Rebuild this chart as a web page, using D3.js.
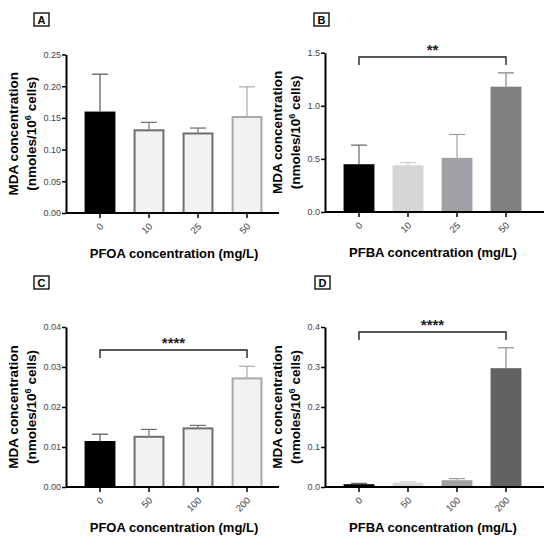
<!DOCTYPE html>
<html>
<head>
<meta charset="utf-8">
<script src="https://cdn.jsdelivr.net/npm/d3@7"></script>
<style>
  body { margin: 0; background: #fff; }
  text { font-family: "Liberation Sans", Arial, sans-serif; }
</style>
</head>
<body>
<script>
// values
const dosesPFOA1 = ["0", "10", "25", "50"];
const meanA = [0.160, 0.132, 0.127, 0.153];
const errA  = [0.059, 0.011, 0.007, 0.046];
const ticksA = [0, 0.05, 0.10, 0.15, 0.20, 0.25];

const dosesPFBA1 = ["0", "10", "25", "50"];
const meanB = [0.45, 0.44, 0.51, 1.18];
const errB  = [0.18, 0.025, 0.22, 0.13];
const ticksB = [0, 0.5, 1.0, 1.5];

const dosesPFOA2 = ["0", "50", "100", "200"];
const meanC = [0.0115, 0.0128, 0.0149, 0.0274];
const errC  = [0.0017, 0.0016, 0.0005, 0.0028];
const ticksC = [0, 0.01, 0.02, 0.03, 0.04];

const dosesPFBA2 = ["0", "50", "100", "200"];
const meanD = [0.007, 0.011, 0.017, 0.297];
const errD  = [0.002, 0.002, 0.004, 0.051];
const ticksD = [0, 0.1, 0.2, 0.3, 0.4];

const W = 550, H = 542;
const svg = d3.select('body').append('svg')
  .attr('width', W).attr('height', H);

function panel(p) {
  const g = svg.append('g');
  const x = d3.scaleBand()
    .domain(p.cats)
    .range([p.left + 9.5, p.left + 205.5])
    .paddingInner(0.37).paddingOuter(0.185);
  const y = d3.scaleLinear().domain([0, p.max]).range([p.bottom, p.top]);

  // bars
  p.cats.forEach((c, i) => {
    const sw = p.stroke[i] === p.fill[i] ? 0 : 2;
    g.append('rect')
      .attr('x', x(c) + sw / 2)
      .attr('y', y(p.mean[i]) + sw / 2)
      .attr('width', x.bandwidth() - sw)
      .attr('height', y(0) - y(p.mean[i]) - sw / 2)
      .attr('fill', p.fill[i])
      .attr('stroke', sw ? p.stroke[i] : 'none')
      .attr('stroke-width', sw);
    // error bar (upper only)
    const cx = x(c) + x.bandwidth() / 2;
    const ec = p.errColor[i];
    g.append('line')
      .attr('x1', cx).attr('x2', cx)
      .attr('y1', y(p.mean[i])).attr('y2', y(p.mean[i] + p.err[i]))
      .attr('stroke', ec).attr('stroke-width', 1.2);
    g.append('line')
      .attr('x1', cx - 8).attr('x2', cx + 8)
      .attr('y1', y(p.mean[i] + p.err[i])).attr('y2', y(p.mean[i] + p.err[i]))
      .attr('stroke', ec).attr('stroke-width', 1.2);
  });

  // y axis
  const ya = g.append('g')
    .attr('transform', `translate(${p.left},0)`)
    .call(d3.axisLeft(y).tickValues(p.ticks).tickFormat(d3.format(p.fmt)).tickSize(4).tickSizeOuter(0));
  ya.select('.domain').attr('stroke', '#000').attr('stroke-width', 2);
  ya.selectAll('.tick line').attr('stroke', '#000').attr('stroke-width', 1.5);
  ya.selectAll('.tick text').attr('font-size', 9).attr('fill', '#444').attr('x', -5);

  // x axis
  const xa = g.append('g')
    .attr('transform', `translate(0,${p.bottom})`)
    .call(d3.axisBottom(x).tickSize(5).tickSizeOuter(0));
  xa.select('.domain').attr('d', `M${p.left},0H${p.axisEnd}`)
    .attr('stroke', '#000').attr('stroke-width', 2);
  xa.selectAll('.tick line').attr('stroke', '#000').attr('stroke-width', 1.5);
  xa.selectAll('.tick text')
    .attr('font-size', 9.5).attr('fill', '#444')
    .attr('text-anchor', 'end')
    .attr('dy', 0).attr('y', 0)
    .attr('transform', 'translate(4,14) rotate(-45)');

  // axis titles
  const yt = g.append('text')
    .attr('transform', `translate(${p.left - p.titleOff},${(p.top + p.bottom) / 2}) rotate(-90)`)
    .attr('text-anchor', 'middle').attr('font-weight', 'bold').attr('font-size', 13.5);
  yt.append('tspan').attr('x', 0).attr('dy', 0).text('MDA concentration');
  const l2 = yt.append('tspan').attr('x', 0).attr('dy', 18).text('(nmoles/10');
  l2.append('tspan').attr('font-size', 9).attr('dy', -5).text('6');
  l2.append('tspan').attr('dy', 5).text(' cells)');

  g.append('text')
    .attr('x', p.left + 108).attr('y', p.bottom + 45)
    .attr('text-anchor', 'middle').attr('font-weight', 'bold').attr('font-size', 13)
    .text(p.xlabel);

  // panel letter
  g.append('rect')
    .attr('x', p.boxX).attr('y', p.boxY).attr('width', 15).attr('height', 13)
    .attr('fill', 'none').attr('stroke', '#000').attr('stroke-width', 1.3);
  g.append('text')
    .attr('x', p.boxX + 7.5).attr('y', p.boxY + 10.5)
    .attr('text-anchor', 'middle').attr('font-weight', 'bold').attr('font-size', 11)
    .text(p.letter);

  // significance bracket
  if (p.sig) {
    const x1 = x(p.cats[0]) + x.bandwidth() / 2;
    const x2 = x(p.cats[p.cats.length - 1]) + x.bandwidth() / 2;
    g.append('path')
      .attr('d', `M${x1},${p.sigY + 8}V${p.sigY}H${x2}V${p.sigY + 8}`)
      .attr('fill', 'none').attr('stroke', '#222').attr('stroke-width', 1.4);
    g.append('text')
      .attr('x', (x1 + x2) / 2).attr('y', p.sigY - 2)
      .attr('text-anchor', 'middle').attr('font-size', 15).attr('font-weight', 'bold')
      .attr('fill', '#222')
      .text(p.sig);
  }
}

panel({
  letter: 'A', boxX: 34, boxY: 13, titleOff: 48,
  cats: dosesPFOA1, mean: meanA, err: errA, ticks: ticksA, max: 0.25, fmt: '.2f',
  left: 66, top: 54.5, bottom: 213, axisEnd: 279,
  fill: ['#000', '#f2f2f2', '#f2f2f2', '#f2f2f2'],
  stroke: ['#000', '#6e6e6e', '#6e6e6e', '#a8a8a8'],
  errColor: ['#555', '#6e6e6e', '#6e6e6e', '#a8a8a8'],
  xlabel: 'PFOA concentration (mg/L)'
});

panel({
  letter: 'B', boxX: 314, boxY: 13, titleOff: 43,
  cats: dosesPFBA1, mean: meanB, err: errB, ticks: ticksB, max: 1.5, fmt: '.1f',
  left: 325, top: 52.7, bottom: 212, axisEnd: 544,
  fill: ['#000', '#d6d6d6', '#a0a0a6', '#808080'],
  stroke: ['#000', '#d6d6d6', '#a0a0a6', '#808080'],
  errColor: ['#666', '#d0d0d0', '#a0a0a6', '#808080'],
  xlabel: 'PFBA concentration (mg/L)',
  sig: '**', sigY: 57
});

panel({
  letter: 'C', boxX: 34, boxY: 276, titleOff: 48,
  cats: dosesPFOA2, mean: meanC, err: errC, ticks: ticksC, max: 0.04, fmt: '.2f',
  left: 66, top: 327, bottom: 487, axisEnd: 279,
  fill: ['#000', '#f2f2f2', '#f2f2f2', '#f2f2f2'],
  stroke: ['#000', '#6e6e6e', '#6e6e6e', '#a8a8a8'],
  errColor: ['#555', '#6e6e6e', '#6e6e6e', '#a8a8a8'],
  xlabel: 'PFOA concentration (mg/L)',
  sig: '****', sigY: 350
});

panel({
  letter: 'D', boxX: 315, boxY: 276, titleOff: 43,
  cats: dosesPFBA2, mean: meanD, err: errD, ticks: ticksD, max: 0.4, fmt: '.1f',
  left: 325, top: 327, bottom: 487, axisEnd: 544,
  fill: ['#000', '#d9d9d9', '#a0a0a0', '#626262'],
  stroke: ['#000', '#d9d9d9', '#a0a0a0', '#626262'],
  errColor: ['#666', '#d0d0d0', '#a0a0a0', '#8a8a8a'],
  xlabel: 'PFBA concentration (mg/L)',
  sig: '****', sigY: 332
});
</script>
</body>
</html>
